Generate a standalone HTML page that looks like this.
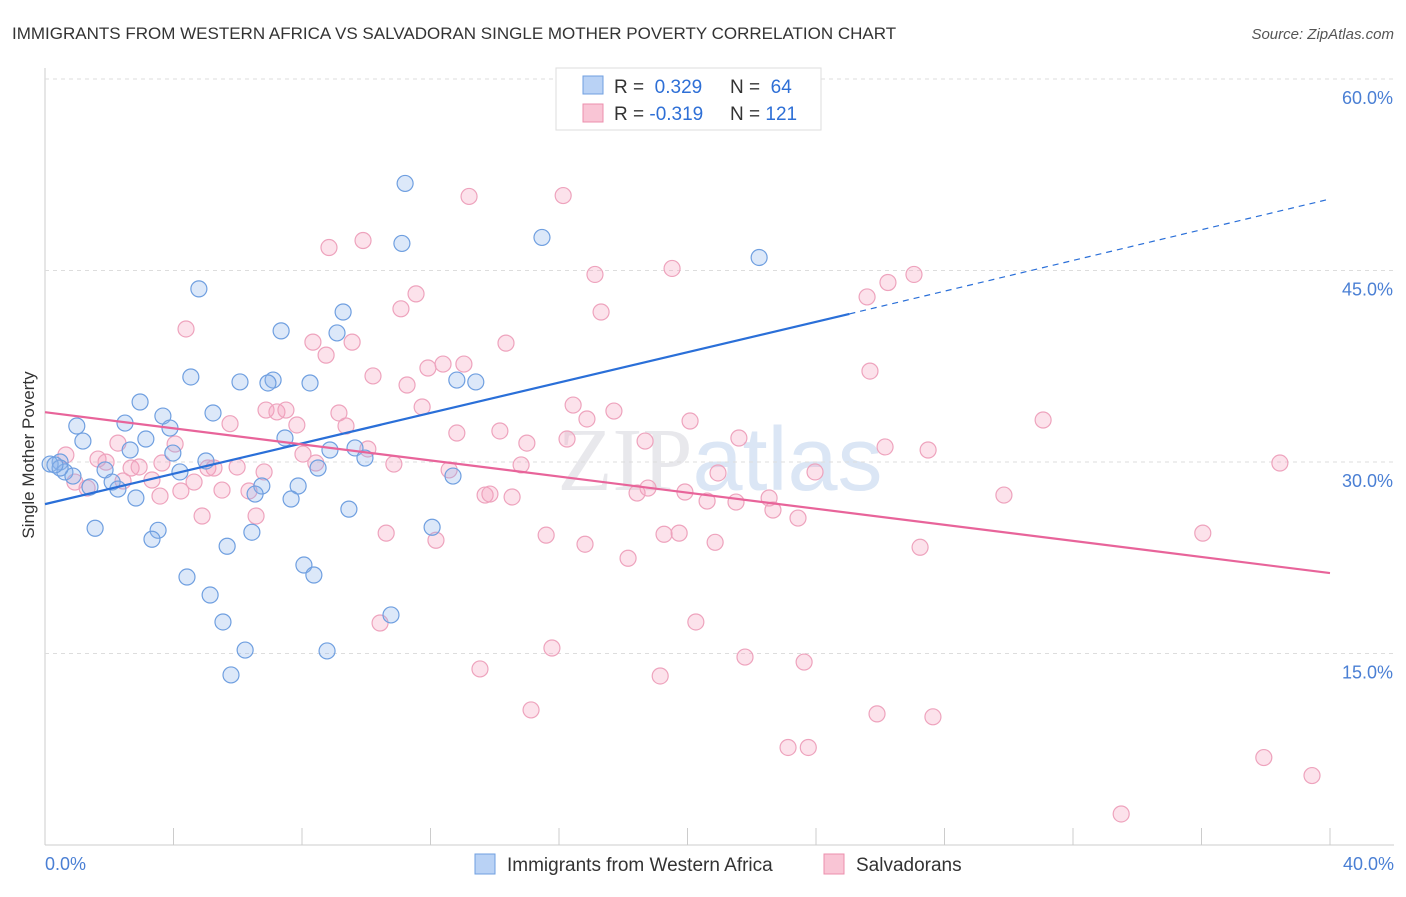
<!DOCTYPE html>
<html><head><meta charset="utf-8"><style>
body{margin:0;background:#fff;font-family:"Liberation Sans",sans-serif;}
</style></head><body>
<svg id="chart" width="1406" height="892" xmlns="http://www.w3.org/2000/svg" style="font-family:'Liberation Sans',sans-serif">
<text x="12" y="39" font-size="17" fill="#333">IMMIGRANTS FROM WESTERN AFRICA VS SALVADORAN SINGLE MOTHER POVERTY CORRELATION CHART</text>
<text x="1394" y="39" font-size="15" fill="#555" font-style="italic" text-anchor="end">Source: ZipAtlas.com</text>
<text x="720" y="490" font-size="90" fill="#e8e8ec" text-anchor="middle" font-family="Liberation Serif">ZIP<tspan fill="#dbe6f5" font-family="Liberation Sans">atlas</tspan></text>
<g id="grid"></g><g id="marks"></g>
<text transform="translate(34,455) rotate(-90)" font-size="17" fill="#333" text-anchor="middle">Single Mother Poverty</text>
<text x="45" y="870" font-size="18" fill="#4a7fd4">0.0%</text>
<text x="1394" y="870" font-size="18" fill="#4a7fd4" text-anchor="end">40.0%</text>
<g>
<rect x="556" y="68" width="265" height="62" fill="#fff" stroke="#ddd"/>
<rect x="583" y="76" width="20" height="18" fill="#b9d2f5" stroke="#6f9fe0"/>
<rect x="583" y="104" width="20" height="18" fill="#f9c5d5" stroke="#ec8fad"/>
<text x="614" y="93" font-size="19" fill="#333">R = <tspan fill="#2e6fd6">&#160;0.329</tspan><tspan x="730">N = </tspan><tspan fill="#2e6fd6">&#160;64</tspan></text>
<text x="614" y="120" font-size="19" fill="#333">R = <tspan fill="#2e6fd6">-0.319</tspan><tspan x="730">N = </tspan><tspan fill="#2e6fd6">121</tspan></text>
</g>
<g>
<rect x="475" y="854" width="20" height="20" fill="#b9d2f5" stroke="#6f9fe0"/>
<text x="507" y="871" font-size="19" fill="#333">Immigrants from Western Africa</text>
<rect x="824" y="854" width="20" height="20" fill="#f9c5d5" stroke="#ec8fad"/>
<text x="856" y="871" font-size="19" fill="#333">Salvadorans</text>
</g>
</svg>
<script>
const yTicks=[15,30,45,60];
const xTickVals=[0,4,8,12,16,20,24,28,32,36,40];
const blueX=[11.21,11.11,15.47,22.23,4.79,9.28,7.35,9.09,4.54,6.07,7.10,6.94,8.25,12.82,13.41,2.96,3.67,5.23,2.49,0.99,3.89,1.18,3.14,7.47,8.87,9.65,9.96,3.98,2.65,5.01,4.20,8.50,1.87,0.47,0.16,0.62,0.87,1.40,2.09,2.27,2.83,7.88,6.75,6.54,7.66,12.70,9.46,12.05,1.56,3.52,3.33,6.44,5.67,8.06,8.37,4.42,5.14,10.77,5.54,6.23,8.78,5.79,0.47,0.31];
const blueY=[51.82,47.12,47.59,46.02,43.56,41.75,40.27,40.11,36.66,36.27,36.42,36.19,36.19,36.42,36.27,34.70,33.60,33.84,33.05,32.82,32.66,31.64,31.80,31.88,30.94,31.10,30.31,30.70,30.94,30.08,29.22,29.53,29.38,30.00,29.84,29.22,28.90,28.04,28.43,27.88,27.18,28.12,28.12,27.49,27.10,28.90,26.31,24.89,24.81,24.65,23.95,24.50,23.40,21.93,21.15,20.99,19.58,18.02,17.47,15.27,15.20,13.32,29.53,29.77];
const pinkX=[13.20,16.13,8.84,9.90,17.12,19.52,11.55,11.08,17.31,26.24,27.05,25.59,4.39,8.34,9.56,8.75,14.35,10.21,11.27,11.92,12.39,13.04,25.68,6.88,7.22,7.50,5.76,7.84,9.15,9.37,11.74,16.44,16.87,17.71,20.08,31.07,2.27,4.05,12.82,14.16,15.00,16.25,18.68,21.60,27.49,26.15,2.68,3.64,5.98,5.07,8.03,10.05,10.86,0.65,1.65,1.90,2.93,3.33,4.64,5.26,6.82,8.43,12.58,14.82,20.95,23.97,38.44,0.93,1.31,2.43,4.23,3.58,5.51,6.35,13.70,14.54,13.85,18.43,18.77,19.92,20.61,21.51,22.54,22.66,23.44,29.85,4.89,6.57,10.62,12.17,15.60,16.81,18.15,19.27,19.74,20.86,27.24,36.04,10.43,15.78,20.26,21.79,23.63,13.54,19.15,15.13,25.90,27.64,23.13,23.76,37.94,39.44,33.50];
const pinkY=[50.80,50.87,46.80,47.35,44.69,45.16,43.17,42.00,41.75,44.06,44.69,42.93,40.42,39.39,39.39,38.37,39.31,36.74,36.03,37.36,37.67,37.67,37.12,34.07,33.92,34.07,33.00,32.90,33.84,32.82,34.31,34.46,33.37,33.99,33.21,33.29,31.48,31.41,32.27,32.43,31.48,31.80,31.64,31.88,30.94,31.18,29.53,29.92,29.61,29.53,30.62,31.02,29.84,30.55,30.23,29.99,29.61,28.59,28.43,29.53,29.22,29.92,29.38,29.77,29.14,29.22,29.92,28.43,27.96,28.51,27.73,27.33,27.80,27.73,27.41,27.26,27.49,27.57,27.96,27.65,26.94,26.86,27.18,26.24,25.61,27.41,25.77,25.77,24.43,23.87,24.27,23.56,22.46,24.34,24.43,23.71,23.32,24.43,17.39,15.43,17.47,14.72,14.33,13.79,13.24,10.58,10.27,10.04,7.64,7.64,6.85,5.44,2.43];
const blueFit=[26.7,41.6,50.6]; // values at x=0, x=25.04(solid end), x=40
const pinkFit=[33.9,21.3];
const X=v=>45+v/40*1285, Y=v=>845-v/60*766;
const NS="http://www.w3.org/2000/svg";
const grid=document.getElementById('grid'), marks=document.getElementById('marks'), svg=document.getElementById('chart');
function mk(p,tag,a){const e=document.createElementNS(NS,tag);for(const k in a)e.setAttribute(k,a[k]);p.appendChild(e);return e;}
let ax=mk(grid,'line',{x1:45,y1:68,x2:45,y2:845,stroke:'#ccc'});


let bx=mk(grid,'line',{x1:45,y1:845,x2:1394,y2:845,stroke:'#ccc'});


yTicks.forEach(t=>{
 const g=mk(grid,'line',{x1:45,y1:Y(t),x2:1394,y2:Y(t),stroke:'#ddd','stroke-dasharray':'4,4'});
 
 
 const l=mk(svg,'text',{x:1393,y:Y(t)+25,'font-size':18,fill:'#4a7fd4','text-anchor':'end'});l.textContent=t.toFixed(1)+'%';
 
 
});
xTickVals.forEach(t=>{
 const l=mk(grid,'line',{x1:X(t),y1:828,x2:X(t),y2:845,stroke:'#ccc'});
 
 
});
pinkX.forEach((v,i)=>{
 const c=mk(marks,'circle',{cx:X(v),cy:Y(pinkY[i]),r:8,fill:'rgba(245,160,190,0.3)',stroke:'#eea3bd','stroke-width':1.2});
 
 
});
blueX.forEach((v,i)=>{
 const c=mk(marks,'circle',{cx:X(v),cy:Y(blueY[i]),r:8,fill:'rgba(140,180,235,0.3)',stroke:'#6f9fe0','stroke-width':1.2});
 
 
});
let t1=mk(marks,'line',{x1:X(0),y1:Y(blueFit[0]),x2:X(25.04),y2:Y(blueFit[1]),stroke:'#2a6fd8','stroke-width':2.2});


let t2=mk(marks,'line',{x1:X(25.04),y1:Y(blueFit[1]),x2:X(40),y2:Y(blueFit[2]),stroke:'#2a6fd8','stroke-width':1.2,'stroke-dasharray':'6,5'});


let t3=mk(marks,'line',{x1:X(0),y1:Y(pinkFit[0]),x2:X(40),y2:Y(pinkFit[1]),stroke:'#e8649a','stroke-width':2.2});


</script>
</body></html>
